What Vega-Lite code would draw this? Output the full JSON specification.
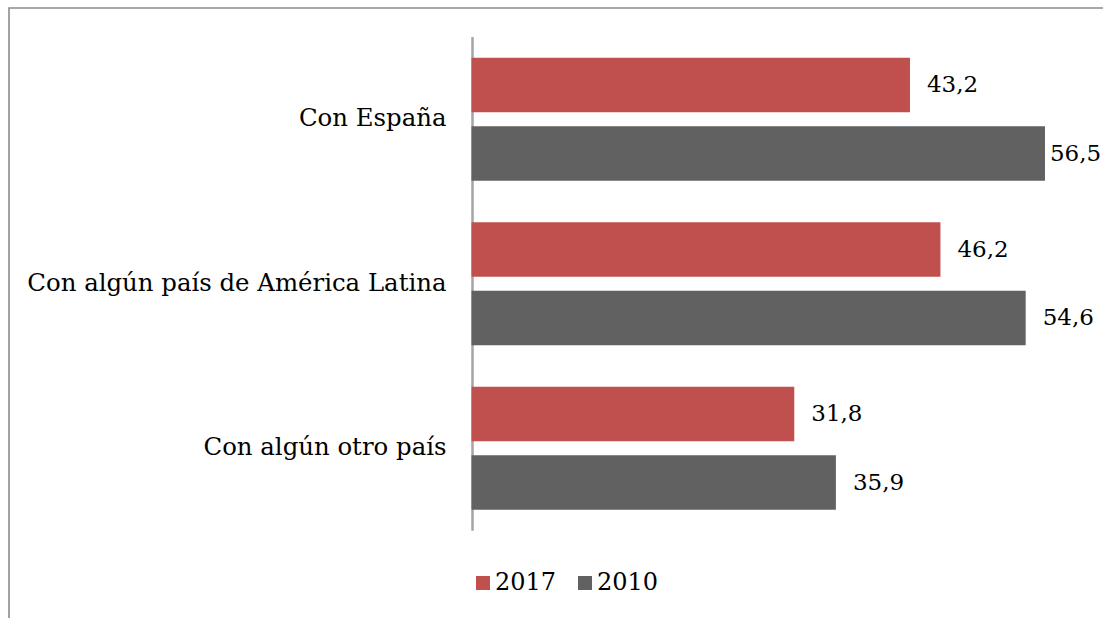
{
  "$schema": "https://vega.github.io/schema/vega-lite/v6.json",
  "width": 1100,
  "height": 612,
  "autosize": {"type": "none"},
  "padding": {"left": 9, "top": 8, "right": 0, "bottom": 0},
  "background": "white",
  "config": {
    "view": {"stroke": "#8c8c8c", "strokeWidth": 1.6},
    "font": "DejaVu Serif",
    "locale": {"number": {"decimal": ",", "thousands": ".", "grouping": [3], "currency": ["", " €"]}}
  },
  "data": {
    "values": [
      {"categoria": "Con España", "año": "2017", "valor": 43.2},
      {"categoria": "Con España", "año": "2010", "valor": 56.5},
      {"categoria": "Con algún país de América Latina", "año": "2017", "valor": 46.2},
      {"categoria": "Con algún país de América Latina", "año": "2010", "valor": 54.6},
      {"categoria": "Con algún otro país", "año": "2017", "valor": 31.8},
      {"categoria": "Con algún otro país", "año": "2010", "valor": 35.9}
    ]
  },
  "encoding": {
    "y": {
      "field": "categoria",
      "type": "nominal",
      "sort": null,
      "scale": {"paddingInner": 0, "paddingOuter": 0.36, "align": 0.245},
      "axis": {
        "title": null,
        "orient": "left",
        "offset": -437,
        "domain": false,
        "ticks": false,
        "tickSize": 0,
        "labelPadding": 0,
        "labelFont": "DejaVu Serif",
        "labelFontSize": 24.4,
        "labelColor": "#000000",
        "labelLimit": 0,
        "grid": false
      }
    },
    "x": {
      "field": "valor",
      "type": "quantitative",
      "scale": {"domain": [-45.567, 62.807], "nice": false, "zero": false},
      "axis": null
    }
  },
  "layer": [
    {
      "mark": {"type": "bar", "color": "#a6a6a6"},
      "encoding": {
        "x": {"datum": 0, "type": "quantitative"},
        "x2": {"datum": 0.2}
      }
    },
    {
      "mark": {"type": "bar"},
      "encoding": {
        "yOffset": {
          "field": "año",
          "type": "nominal",
          "sort": ["2017", "2010"],
          "scale": {"paddingInner": 0.204, "paddingOuter": 0.303}
        },
        "x2": {"datum": 0},
        "color": {
          "field": "año",
          "type": "nominal",
          "sort": ["2017", "2010"],
          "scale": {"domain": ["2017", "2010"], "range": ["#C0504D", "#616161"]},
          "legend": {
            "title": null,
            "orient": "none",
            "legendX": 462,
            "legendY": 563,
            "direction": "horizontal",
            "symbolType": "square",
            "symbolSize": 196,
            "symbolStrokeWidth": 0,
            "labelFont": "DejaVu Serif",
            "labelFontSize": 24,
            "labelColor": "#000000",
            "labelOffset": 0,
            "columnPadding": 16
          }
        }
      }
    },
    {
      "transform": [{"filter": "datum.valor < 56"}],
      "mark": {"type": "text", "align": "left", "baseline": "middle", "dx": 17, "fontSize": 23, "font": "DejaVu Serif", "color": "#000000"},
      "encoding": {
        "yOffset": {"field": "año", "type": "nominal", "sort": ["2017", "2010"], "scale": {"paddingInner": 0.204, "paddingOuter": 0.303}},
        "text": {"field": "valor", "type": "quantitative", "format": ".1f"}
      }
    },
    {
      "transform": [{"filter": "datum.valor >= 56"}],
      "mark": {"type": "text", "align": "left", "baseline": "middle", "dx": 5, "fontSize": 23, "font": "DejaVu Serif", "color": "#000000"},
      "encoding": {
        "yOffset": {"field": "año", "type": "nominal", "sort": ["2017", "2010"], "scale": {"paddingInner": 0.204, "paddingOuter": 0.303}},
        "text": {"field": "valor", "type": "quantitative", "format": ".1f"}
      }
    }
  ]
}
